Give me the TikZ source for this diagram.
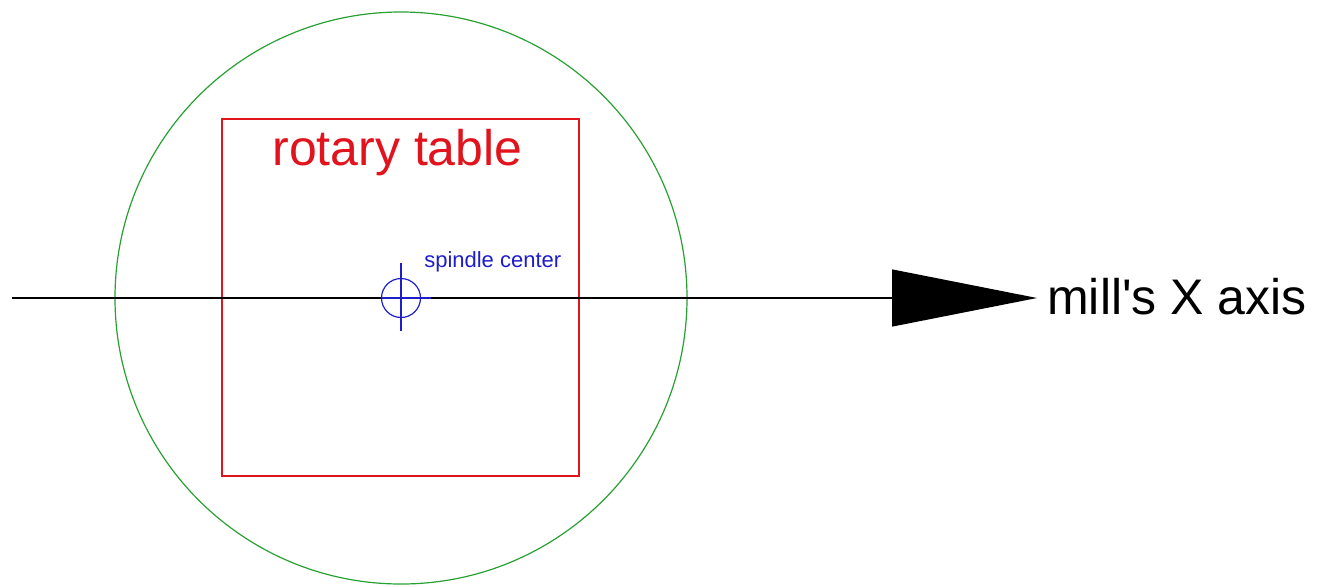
\documentclass[tikz,border=0pt]{standalone}
\usepackage{fontspec}
\setmainfont{Liberation Sans}
\usetikzlibrary{arrows.meta}
\definecolor{cgreen}{RGB}{40,160,50}
\definecolor{cred}{RGB}{225,20,30}
\definecolor{cblue}{RGB}{30,30,200}
\begin{document}
\begin{tikzpicture}[x=0.75pt,y=-0.75pt,
  ring/.style={circle,draw=cgreen,line width=0.9pt,inner sep=0pt,minimum size=429pt},
  tablebox/.style={draw=cred,line width=0.9pt,inner sep=0pt,minimum width=267.75pt,minimum height=267.75pt},
  bigtext/.style={font=\fontsize{37.5}{40}\selectfont,inner sep=0pt},
  spin/.style={circle,draw=cblue,line width=0.9pt,inner sep=0pt,minimum size=29.25pt},
  bluelin/.style={draw=cblue,line width=0.9pt},
  axisline/.style={draw=black,line width=0.9pt,-{Triangle[length=108.75pt,width=42.75pt]}}
]
\useasboundingbox (0,0) rectangle (1319,586);
\node[ring] (rt) at (401,298) {};
\node[tablebox] (tb) at (400.5,297.5) {};
\node[bigtext,text=cred,anchor=base] (tbl) at (397.5,165) {rotary table};
\coordinate (axstart) at (12,298);
\coordinate (axtip) at (1037,298);
\draw[axisline] (axstart) -- (axtip);
\node[bigtext,anchor=base west] (axl) at (1047,314) {mill\textquotesingle s X axis};
\node[spin] (sp) at (401,298) {};
\coordinate (sT) at (401,263);
\coordinate (sB) at (401,331);
\coordinate (sL) at (381,298);
\coordinate (sR) at (431,298);
\draw[bluelin] (sT) -- (sB);
\draw[bluelin] (sL) -- (sR);
\node[text=cblue,anchor=base west,inner sep=0pt,font=\fontsize{16.5}{18}\selectfont] (spl) at (424,267) {spindle center};
\end{tikzpicture}
\end{document}
